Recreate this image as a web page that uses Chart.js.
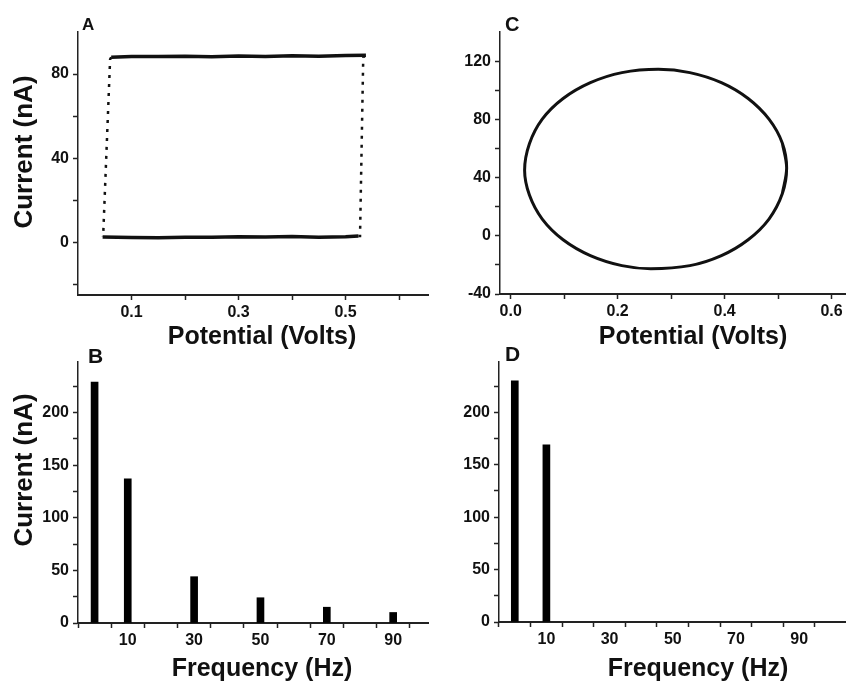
<!DOCTYPE html>
<html><head><meta charset="utf-8">
<script src="https://cdn.jsdelivr.net/npm/chart.js@4/dist/chart.umd.min.js"></script>
<style>
html,body{margin:0;padding:0;background:#fff;}
#wrap{position:relative;width:846px;height:681px;overflow:hidden;background:#fff;}
canvas{position:absolute;left:0;top:0;}
.t{position:absolute;font-family:"Liberation Sans",Arial,sans-serif;font-weight:bold;color:#111;white-space:nowrap;line-height:1;}
.xt{transform:translateX(-50%);font-size:25px;}
.yt{transform:translate(-50%,-50%) rotate(-90deg);font-size:26px;}
</style></head><body>
<div id="wrap">
<canvas id="cA" width="846" height="681"></canvas>
<canvas id="cC" width="846" height="681"></canvas>
<canvas id="cB" width="846" height="681"></canvas>
<canvas id="cD" width="846" height="681"></canvas>
<div class="t" style="left:82px;top:16px;font-size:17px;">A</div>
<div class="t" style="left:505px;top:14px;font-size:20px;">C</div>
<div class="t" style="left:88px;top:345px;font-size:21px;">B</div>
<div class="t" style="left:505px;top:343px;font-size:21px;">D</div>
<div class="t xt" style="left:262px;top:323px;">Potential (Volts)</div>
<div class="t xt" style="left:693px;top:323px;">Potential (Volts)</div>
<div class="t yt" style="left:23px;top:152px;">Current (nA)</div>
<div class="t yt" style="left:23px;top:470px;">Current (nA)</div>
<div class="t xt" style="left:262px;top:655px;">Frequency (Hz)</div>
<div class="t xt" style="left:698px;top:655px;">Frequency (Hz)</div>
</div>
<script>
// ---- Panel A: square-wave voltammogram (Potential V, Current nA)
const cvA_potential = [0.046, 0.10, 0.15, 0.20, 0.25, 0.30, 0.35, 0.40, 0.45, 0.50, 0.524, 0.527, 0.533, 0.538, 0.50, 0.45, 0.40, 0.35, 0.30, 0.25, 0.20, 0.15, 0.10, 0.062, 0.060, 0.047, 0.046];
const cvA_current   = [2.6, 2.3, 2.2, 2.5, 2.4, 2.7, 2.6, 2.8, 2.5, 2.7, 3.0, 3.0, 88.0, 88.9, 88.8, 88.5, 88.7, 88.4, 88.6, 88.2, 88.5, 88.4, 88.3, 88.0, 87.0, 3.0, 2.6];

// ---- Panel C: elliptical voltammogram (points read around the loop; small overlap at the joint)
const cvC_potential = [0.508,0.516,0.508,0.483,0.444,0.394,0.335,0.276,0.208,0.149,0.098,0.059,0.035,0.026,0.035,0.059,0.098,0.149,0.208,0.262,0.335,0.394,0.444,0.483,0.508,0.516,0.508];
const cvC_current   = [29.0,46.5,63.6,80.1,94.3,105.2,112.1,114.4,112.1,105.2,94.3,80.1,63.2,45.0,28.0,11.5,-2.7,-13.6,-20.5,-22.6,-20.5,-13.6,-2.7,11.5,29.0,46.5,63.6];

// ---- Panel B: frequency spectrum of A
const freqB    = [0, 10, 30, 50, 70, 90];
const currentB = [229, 137, 44, 24, 15, 10];

// ---- Panel D: frequency spectrum of C
const freqD    = [0, 10];
const currentD = [230, 169];

// ---- Tick values
const ticksA_x_major = [0.1, 0.3, 0.5], ticksA_x_minor = [0.2, 0.4, 0.6];
const ticksA_y_major = [0, 40, 80],     ticksA_y_minor = [-20, 20, 60];
const ticksC_x_major = [0.0, 0.2, 0.4, 0.6], ticksC_x_minor = [0.1, 0.3, 0.5];
const ticksC_y_major = [-40, 0, 40, 80, 120], ticksC_y_minor = [-20, 20, 60, 100];
const ticksF_x_major = [10, 30, 50, 70, 90], ticksF_x_minor = [0, 20, 40, 60, 80, 100];
const ticksF_y_major = [0, 50, 100, 150, 200], ticksF_y_minor = [25, 75, 125, 175, 225];

const FONT = "'Liberation Sans', Arial, sans-serif";
Chart.defaults.font.family = FONT;
Chart.defaults.font.weight = 'bold';
Chart.defaults.font.size = 16;
Chart.defaults.color = '#111';
Chart.defaults.animation = false;

const W = 846, H = 681, YW = 60, XH = 30;

function axis(min, max, major, minor, fmt, isX) {
  const all = [...major, ...minor].sort((a,b)=>a-b);
  return {
    type: 'linear', min, max, position: isX ? 'bottom' : 'left',
    afterBuildTicks: s => { s.ticks = all.map(v => ({value: v})); },
    afterFit: s => { if (isX) s.height = XH; else s.width = YW; },
    ticks: {
      autoSkip: false, maxRotation: 0, minRotation: 0, padding: isX ? 3 : 4,
      callback: v => major.some(m => Math.abs(m - v) < 1e-9) ? fmt(v) : '',
      font: {size: 16, weight: 'bold'}, color: '#111'
    },
    grid: {display: true, drawOnChartArea: false, drawTicks: true, tickLength: 5, tickWidth: 1.5, tickColor: '#222'},
    border: {display: true, color: '#222', width: isX ? 2 : 1.5}
  };
}

function pad(L, T, R, B) {
  return {left: L - YW, top: T, right: W - R, bottom: H - B - XH};
}

const common = {responsive: false, animation: false, events: [],
  plugins: {legend: {display: false}, tooltip: {enabled: false}}};

// Panel A
new Chart(document.getElementById('cA'), {
  type: 'scatter',
  data: {datasets: [{
    data: cvA_potential.map((x, i) => ({x, y: cvA_current[i]})),
    showLine: true, borderColor: '#111', borderWidth: 3.5, pointRadius: 0, tension: 0,
    segment: {
      borderDash: c => Math.abs(c.p0.parsed.x - c.p1.parsed.x) < 0.02 ? [3, 6] : undefined,
      borderWidth: c => Math.abs(c.p0.parsed.x - c.p1.parsed.x) < 0.02 ? 2.5 : undefined
    }
  }]},
  options: Object.assign({}, common, {
    layout: {padding: pad(78, 32, 428, 295)},
    scales: {
      x: axis(0, 0.654, ticksA_x_major, ticksA_x_minor, v => v.toFixed(1), true),
      y: axis(-25, 100, ticksA_y_major, ticksA_y_minor, v => String(v), false)
    }
  })
});

// Panel C
new Chart(document.getElementById('cC'), {
  type: 'scatter',
  data: {datasets: [{
    data: cvC_potential.map((x, i) => ({x, y: cvC_current[i]})),
    showLine: true, borderColor: '#111', borderWidth: 3, pointRadius: 0, tension: 0.35
  }]},
  options: Object.assign({}, common, {
    layout: {padding: pad(500, 32, 846, 294)},
    scales: {
      x: axis(-0.02, 0.627, ticksC_x_major, ticksC_x_minor, v => v.toFixed(1), true),
      y: axis(-40, 140, ticksC_y_major, ticksC_y_minor, v => String(v), false)
    }
  })
});

// Panel B
new Chart(document.getElementById('cB'), {
  type: 'bar',
  data: {datasets: [{
    data: freqB.map((x, i) => ({x, y: currentB[i]})),
    backgroundColor: '#000', barThickness: 7, borderWidth: 0
  }]},
  options: Object.assign({}, common, {
    layout: {padding: pad(78, 362, 428, 623)},
    scales: {
      x: Object.assign(axis(-5, 100.5, ticksF_x_major, ticksF_x_minor, v => String(v), true), {offset: false}),
      y: axis(0, 248, ticksF_y_major, ticksF_y_minor, v => String(v), false)
    }
  })
});

// Panel D
new Chart(document.getElementById('cD'), {
  type: 'bar',
  data: {datasets: [{
    data: freqD.map((x, i) => ({x, y: currentD[i]})),
    backgroundColor: '#000', barThickness: 7, borderWidth: 0
  }]},
  options: Object.assign({}, common, {
    layout: {padding: pad(499, 362, 845, 622)},
    scales: {
      x: Object.assign(axis(-5, 104.5, ticksF_x_major, ticksF_x_minor, v => String(v), true), {offset: false}),
      y: axis(0, 248, ticksF_y_major, ticksF_y_minor, v => String(v), false)
    }
  })
});
</script>
</body></html>
